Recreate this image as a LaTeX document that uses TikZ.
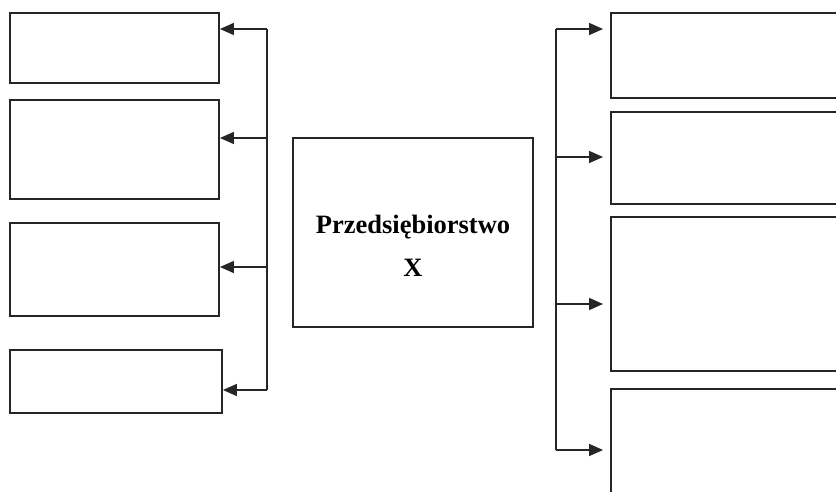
\documentclass[tikz,border=0pt]{standalone}
\usepackage{fontspec}
\setmainfont{Liberation Serif}
\usetikzlibrary{arrows.meta}
\begin{document}
\begin{tikzpicture}[x=1pt,y=-1pt,
  box/.style={draw=black!85, line width=1.8pt, rectangle, inner sep=0pt},
  arr/.style={draw=black!85, line width=1.4pt, -{Triangle[length=14pt,width=12pt]}},
  bus/.style={draw=black!85, line width=1.4pt}]
  \useasboundingbox (0,0) rectangle (836,492);
  \clip (0,0) rectangle (836,492);

  % left column of boxes
  \node[box, minimum width=209pt, minimum height=70pt] (l1) at (114.5,48) {};
  \node[box, minimum width=209pt, minimum height=99pt] (l2) at (114.5,149.5) {};
  \node[box, minimum width=209pt, minimum height=93pt] (l3) at (114.5,269.5) {};
  \node[box, minimum width=212pt, minimum height=63pt] (l4) at (116,381.5) {};

  % central box
  \node[box, minimum width=240pt, minimum height=189pt] (c) at (413,232.5) {};
  \node[align=center, font=\fontsize{26.5}{43}\selectfont\bfseries, inner sep=0pt] (ct) at (413,245.5)
    {Przedsiębiorstwo\\X};

  % right column of boxes (running past the right edge)
  \node[box, minimum width=239pt, minimum height=85pt] (r1) at (730.5,55.5) {};
  \node[box, minimum width=239pt, minimum height=92pt] (r2) at (730.5,158) {};
  \node[box, minimum width=239pt, minimum height=154pt] (r3) at (730.5,294) {};
  \node[box, minimum width=239pt, minimum height=121pt] (r4) at (730.5,449.5) {};

  % left bus
  \coordinate (lb1) at (267,29);
  \coordinate (lb2) at (267,138);
  \coordinate (lb3) at (267,267);
  \coordinate (lb4) at (267,390);
  \draw[bus] (lb1) -- (lb4);
  \draw[arr] (lb1) -- (lb1 -| l1.east);
  \draw[arr] (lb2) -- (lb2 -| l2.east);
  \draw[arr] (lb3) -- (lb3 -| l3.east);
  \draw[arr] (lb4) -- (lb4 -| l4.east);

  % right bus
  \coordinate (rb1) at (556,29);
  \coordinate (rb2) at (556,157);
  \coordinate (rb3) at (556,304);
  \coordinate (rb4) at (556,450);
  \draw[bus] (rb1) -- (rb4);
  \draw[arr] (rb1) -- ([xshift=-7pt]rb1 -| r1.west);
  \draw[arr] (rb2) -- ([xshift=-7pt]rb2 -| r2.west);
  \draw[arr] (rb3) -- ([xshift=-7pt]rb3 -| r3.west);
  \draw[arr] (rb4) -- ([xshift=-7pt]rb4 -| r4.west);
\end{tikzpicture}
\end{document}
